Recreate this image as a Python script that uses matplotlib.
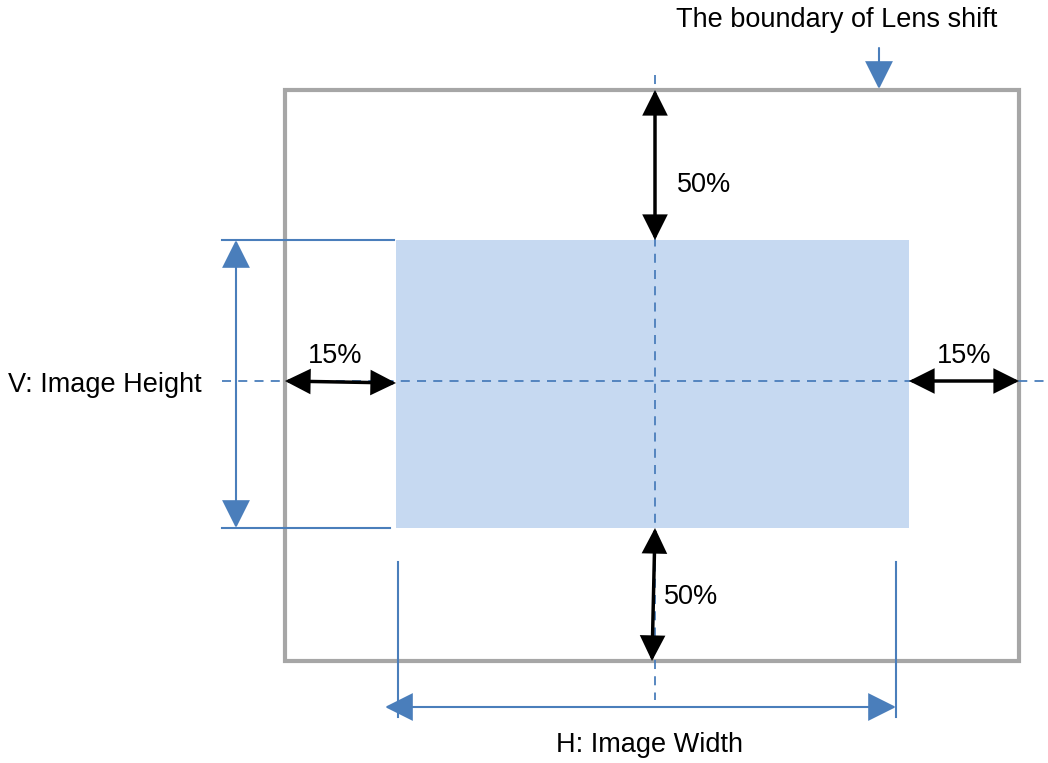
import matplotlib
matplotlib.use('Agg')
import matplotlib.pyplot as plt
from matplotlib.patches import Rectangle, FancyArrowPatch

plt.rcParams['font.family'] = ['Liberation Sans', 'DejaVu Sans']

# labels and values
shift_v = [50, 50]   # top, bottom lens shift (%)
shift_h = [15, 15]   # left, right lens shift (%)
dim_labels = ['V: Image Height', 'H: Image Width']
title = 'The boundary of Lens shift'

BLUE = '#4A7EBB'
GRAY = '#A6A6A6'
FILL = '#C6D9F1'

# layout in pixel units
W, H = 1048, 763
bound = (285, 90, 1019, 661)   # x0, y0, x1, y1
img = (396, 240, 909, 528)
cx, cy = 655, 381

fig = plt.figure(figsize=(W / 100, H / 100), dpi=100)
ax = fig.add_axes([0, 0, 1, 1])
ax.set_xlim(0, W)
ax.set_ylim(H, 0)
ax.axis('off')

# image area
ax.add_patch(Rectangle((img[0], img[1]), img[2] - img[0], img[3] - img[1],
                       facecolor=FILL, edgecolor='none', zorder=1))
# lens shift boundary
ax.add_patch(Rectangle((bound[0], bound[1]), bound[2] - bound[0], bound[3] - bound[1],
                       facecolor='none', edgecolor=GRAY, linewidth=3, zorder=2))

# center dashed lines
ax.plot([cx, cx], [75, 700], color=BLUE, lw=1.3, ls=(0, (5, 4)), zorder=3)
ax.plot([222, 1045], [cy, cy], color=BLUE, lw=1.3, ls=(0, (5, 4)), zorder=3)


def arrow(p0, p1, color, lw, scale, style='<|-|>'):
    a = FancyArrowPatch(p0, p1, arrowstyle=style, mutation_scale=scale,
                        color=color, linewidth=lw, shrinkA=0, shrinkB=0,
                        joinstyle='miter', zorder=5)
    ax.add_patch(a)


# black shift arrows
arrow((cx, bound[1]), (cx, img[1]), 'black', 2.5, 36)
arrow((cx, img[3]), (652, bound[3]), 'black', 2.5, 36)
arrow((bound[0], cy), (img[0], 383), 'black', 2.5, 36)
arrow((img[2], cy), (bound[2], cy), 'black', 2.5, 36)

fs = 19.5
ax.text(677, 185, f'{shift_v[0]}%', fontsize=fs, va='center', ha='left')
ax.text(664, 597, f'{shift_v[1]}%', fontsize=fs, va='center', ha='left')
ax.text(335, 356, f'{shift_h[0]}%', fontsize=fs, va='center', ha='center')
ax.text(964, 356, f'{shift_h[1]}%', fontsize=fs, va='center', ha='center')

# V dimension
ax.plot([222, 394], [img[1], img[1]], color=BLUE, lw=1.5, zorder=3)
ax.plot([222, 390], [img[3], img[3]], color=BLUE, lw=1.5, zorder=3)
arrow((236, img[3]), (236, img[1]), BLUE, 1.5, 44)
ax.text(105, 385, dim_labels[0], fontsize=fs, va='center', ha='center')

# H dimension
ax.plot([398, 398], [562, 717], color=BLUE, lw=1.5, zorder=3)
ax.plot([896, 896], [562, 717], color=BLUE, lw=1.5, zorder=3)
arrow((385, 707), (896, 707), BLUE, 1.5, 44)
ax.text(650, 745, dim_labels[1], fontsize=fs, va='center', ha='center')

# boundary label
ax.text(837, 20, title, fontsize=fs, va='center', ha='center')
arrow((879, 48), (879, 89), BLUE, 1.5, 44, style='-|>')

fig.savefig('out.png', dpi=100)
